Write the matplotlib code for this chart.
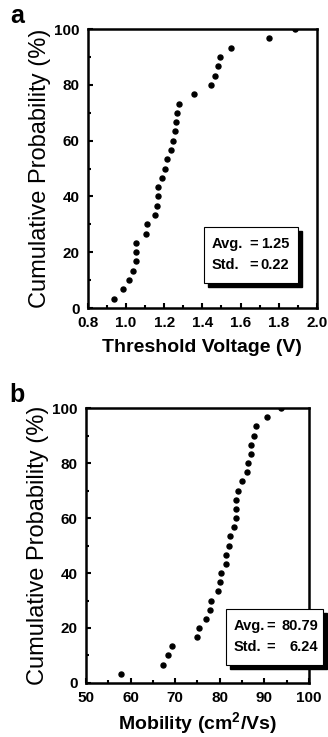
import numpy as np
import matplotlib
matplotlib.use('Agg')
import matplotlib.pyplot as plt
from matplotlib.patches import Rectangle

plt.rcParams['font.family'] = ['Liberation Sans', 'DejaVu Sans']
plt.rcParams['mathtext.fontset'] = 'custom'
plt.rcParams['mathtext.rm'] = 'Liberation Sans:bold'
plt.rcParams['mathtext.bf'] = 'Liberation Sans:bold'

# cumulative probability, 30 devices
prob = [3.3, 6.7, 10, 13.3, 16.7, 20, 23.3, 26.7, 30, 33.3,
        36.7, 40, 43.3, 46.7, 50, 53.3, 56.7, 60, 63.3, 66.7,
        70, 73.3, 76.7, 80, 83.3, 86.7, 90, 93.3, 96.7, 100]

vth = [0.937, 0.984, 1.015, 1.036, 1.052, 1.054, 1.054, 1.103, 1.108, 1.150,
       1.164, 1.166, 1.166, 1.187, 1.205, 1.217, 1.234, 1.248, 1.259, 1.262,
       1.268, 1.280, 1.357, 1.444, 1.465, 1.481, 1.492, 1.551, 1.749, 1.888]

mobility = [57.8, 67.2, 68.4, 69.3, 75.0, 75.3, 76.9, 77.7, 78.1, 79.7,
            80.1, 80.2, 81.3, 81.5, 82.1, 82.2, 83.3, 83.7, 83.7, 83.7,
            84.0, 85.0, 86.2, 86.4, 87.0, 87.1, 87.6, 88.2, 90.7, 93.7]

stats_a = [('Avg.', '1.25'), ('Std.', '0.22')]
stats_b = [('Avg.', '80.79'), ('Std.', '6.24')]


def style_axes(ax):
    for s in ax.spines.values():
        s.set_linewidth(1.8)
    ax.tick_params(which='both', direction='in', top=False, right=False,
                   width=1.5, labelsize=11, pad=6)
    ax.tick_params(which='major', length=3.5)
    ax.tick_params(which='minor', length=2.5)
    for lab in ax.get_xticklabels() + ax.get_yticklabels():
        lab.set_fontweight('bold')


def stat_box(ax, x0, x1, y0, y1, xeq, xval, stats):
    w, h = x1 - x0, y1 - y0
    dx = 4 / ax.bbox.width
    dy = 4 / ax.bbox.height
    ax.add_patch(Rectangle((x0 + dx, y0 - dy), w, h, transform=ax.transAxes,
                           facecolor='black', edgecolor='black', clip_on=False, zorder=4))
    ax.add_patch(Rectangle((x0, y0), w, h, transform=ax.transAxes,
                           facecolor='white', edgecolor='black', lw=0.8, clip_on=False, zorder=5))
    for i, (name, val) in enumerate(stats):
        yy = y0 + h * (0.7 - 0.37 * i)
        ax.text(x0 + 0.035, yy, name, transform=ax.transAxes, fontsize=10.5,
                fontweight='bold', va='center', ha='left', zorder=6)
        ax.text(xeq, yy, '=', transform=ax.transAxes, fontsize=10.5,
                fontweight='bold', va='center', ha='center', zorder=6)
        ax.text(xval, yy, val, transform=ax.transAxes, fontsize=10.5,
                fontweight='bold', va='center', ha='right', zorder=6)


fig = plt.figure(figsize=(3.28, 7.37), dpi=100)

# panel a
ax1 = fig.add_axes([0.268, 0.582, 0.698, 0.3786])
ax1.plot(vth, prob, 'o', color='black', markersize=3.6)
ax1.set_xlim(0.8, 2.0)
ax1.set_ylim(0, 100)
ax1.set_xticks(np.arange(0.8, 2.01, 0.2))
ax1.set_xticks(np.arange(0.9, 2.0, 0.2), minor=True)
ax1.set_xticklabels(['0.8', '1.0', '1.2', '1.4', '1.6', '1.8', '2.0'])
ax1.set_yticks(np.arange(0, 101, 20))
ax1.set_yticks(np.arange(10, 100, 20), minor=True)
style_axes(ax1)
ax1.set_xlabel('Threshold Voltage (V)', fontsize=14, fontweight='bold', labelpad=6)
ax1.set_ylabel('Cumulative Probability (%)', fontsize=17, labelpad=2)
stat_box(ax1, 0.507, 0.917, 0.090, 0.290, 0.725, 0.880, stats_a)
fig.text(0.03, 0.969, 'a', fontsize=18, fontweight='bold', va='baseline')

# panel b
ax2 = fig.add_axes([0.262, 0.0733, 0.680, 0.373])
ax2.plot(mobility, prob, 'o', color='black', markersize=3.6)
ax2.set_xlim(50, 100)
ax2.set_ylim(0, 100)
ax2.set_xticks(np.arange(50, 101, 10))
ax2.set_xticks(np.arange(55, 100, 10), minor=True)
ax2.set_yticks(np.arange(0, 101, 20))
ax2.set_yticks(np.arange(10, 100, 20), minor=True)
style_axes(ax2)
ax2.set_xlabel(r'Mobility (cm$^{2}$/Vs)', fontsize=14, fontweight='bold', labelpad=4)
ax2.set_ylabel('Cumulative Probability (%)', fontsize=17, labelpad=2)
stat_box(ax2, 0.628, 1.063, 0.065, 0.269, 0.830, 1.040, stats_b)
fig.text(0.03, 0.4545, 'b', fontsize=18, fontweight='bold', va='baseline')

fig.savefig('out.png', dpi=100)
